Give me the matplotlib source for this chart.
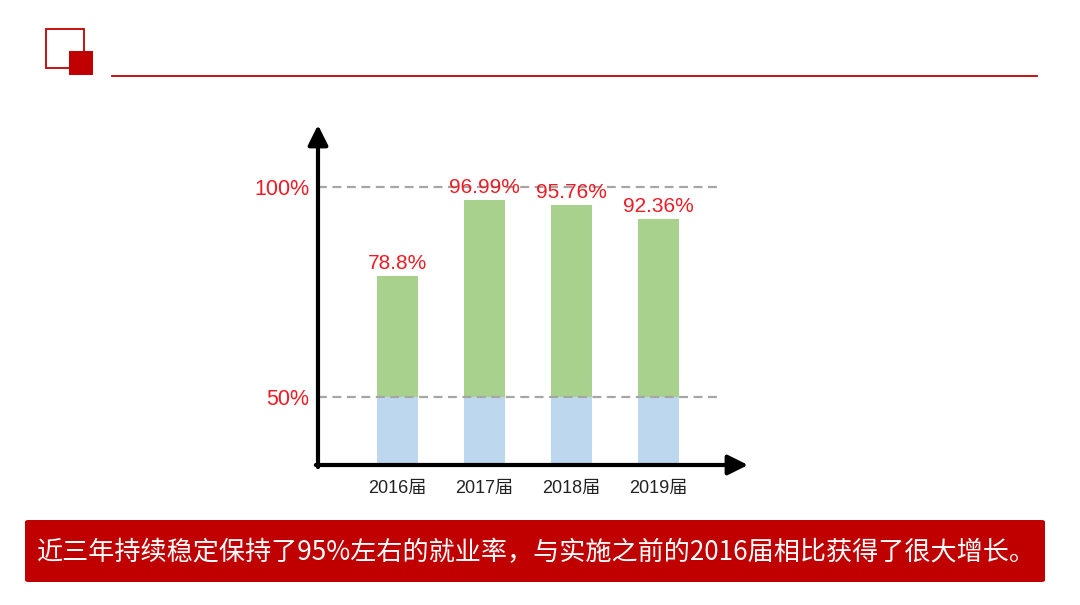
import matplotlib.pyplot as plt
from matplotlib.patches import Rectangle, FancyBboxPatch
from matplotlib.lines import Line2D

# 数据
years = ['2016届', '2017届', '2018届', '2019届']
rates = [78.8, 96.99, 95.76, 92.36]
base_level = 50
ref_levels = [50, 100]
ref_labels = ['50%', '100%']
summary = '近三年持续稳定保持了95%左右的就业率，与实施之前的2016届相比获得了很大增长。'

RED = '#c00000'
TXT_RED = '#ee1c25'
GREEN = '#a9d18e'
BLUE = '#bdd7ee'
GREY = '#a6a6a6'

fig = plt.figure(figsize=(10.8, 6.05), dpi=100)
fig.patch.set_facecolor('white')

# 图表区域
ax = fig.add_axes([318 / 1080, 1 - 465 / 605, 430 / 1080, 340 / 605])
x = range(len(years))

ax.bar(x, [base_level] * len(years), width=0.47, color=BLUE, zorder=2)
ax.bar(x, [r - base_level for r in rates], bottom=base_level, width=0.47,
       color=GREEN, zorder=2)

ax.hlines(ref_levels, -0.91, 3.69, colors=GREY, linestyles=(0, (4, 2.5)),
          linewidth=1.6, zorder=3)

for xi, r in zip(x, rates):
    ax.annotate(f'{r:g}%', (xi, r), xytext=(0, 2), textcoords='offset points',
                ha='center', va='bottom', fontsize=15, color=TXT_RED,
                family=['Liberation Sans', 'DejaVu Sans'], zorder=4)

ax.set_xlim(-0.908, 4.03)
ax.set_ylim(33.8, 114.76)
for s in ax.spines.values():
    s.set_visible(False)

ax.set_xticks(list(x), years, fontsize=13, color='#222222',
              family=['Liberation Sans', 'Noto Sans CJK SC'])
ax.set_yticks(ref_levels, ref_labels, fontsize=15.5, color=TXT_RED,
              family=['Liberation Sans', 'DejaVu Sans'])
ax.tick_params(axis='x', length=0, pad=11)
ax.tick_params(axis='y', length=0, pad=6)

# 坐标轴箭头
arrow = dict(arrowstyle='-|>', lw=3, color='black', mutation_scale=30,
             shrinkA=0, shrinkB=0)
ax.annotate('', xy=(0, 1), xytext=(0, -0.006), xycoords='axes fraction',
            arrowprops=arrow, annotation_clip=False)
ax.annotate('', xy=(1, 0), xytext=(-0.005, 0), xycoords='axes fraction',
            arrowprops=arrow, annotation_clip=False)

# 标题装饰
fig.patches.append(Rectangle((46 / 1080, 1 - 68 / 605), 38 / 1080, 39 / 605,
                             transform=fig.transFigure, fill=False,
                             edgecolor=RED, linewidth=1.3))
fig.patches.append(Rectangle((69 / 1080, 1 - 75 / 605), 24 / 1080, 24 / 605,
                             transform=fig.transFigure, facecolor=RED,
                             edgecolor='none'))
fig.lines.append(Line2D([112 / 1080, 1037 / 1080], [1 - 76 / 605] * 2,
                        transform=fig.transFigure, color=RED, linewidth=1.3))

# 底部说明
fig.patches.append(FancyBboxPatch((25 / 1080, 1 - 582 / 605), 1020 / 1080, 62 / 605,
                                  boxstyle='round,pad=0,rounding_size=0.003',
                                  transform=fig.transFigure, facecolor=RED,
                                  edgecolor='none'))
fig.text(536 / 1080, 1 - 553 / 605, summary, ha='center', va='center', color='white',
         fontsize=18.8, family=['Noto Sans CJK SC', 'DejaVu Sans'])

fig.savefig('out.png', dpi=100, facecolor='white')
